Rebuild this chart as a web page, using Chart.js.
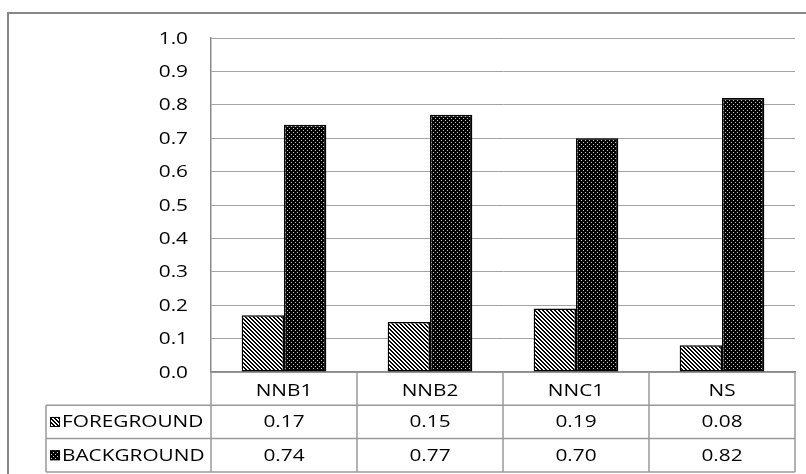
<!DOCTYPE html>
<html>
<head>
<meta charset="utf-8">
<script src="https://cdn.jsdelivr.net/npm/chart.js@4/dist/chart.umd.min.js"></script>
<style>
  html, body { margin: 0; padding: 0; background: #ffffff; }
  #wrap { width: 806px; height: 474px; }
</style>
</head>
<body>
<div id="wrap"><canvas id="c" width="806" height="474"></canvas></div>
<script>
// Categories and series
const categories = ['NNB1', 'NNB2', 'NNC1', 'NS'];
const foreground = [0.17, 0.15, 0.19, 0.08];
const background = [0.74, 0.77, 0.70, 0.82];
const seriesNames = ['FOREGROUND', 'BACKGROUND'];
const yTicks = [0.0, 0.1, 0.2, 0.3, 0.4, 0.5, 0.6, 0.7, 0.8, 0.9, 1.0];

const FONT = '16px "Open Sans"';
const TEXT_SCALE = 1.3;

// Fill patterns: diagonal hatch and dark dotted
function makePattern(drawTile, size) {
  const t = document.createElement('canvas');
  t.width = size; t.height = size;
  const g = t.getContext('2d');
  drawTile(g, size);
  return document.getElementById('c').getContext('2d').createPattern(t, 'repeat');
}
const hatch = makePattern((g, s) => {
  g.fillStyle = '#ffffff'; g.fillRect(0, 0, s, s);
  g.fillStyle = '#000000';
  for (let py = 0; py < s; py++) {
    for (let px = 0; px < s; px++) {
      if (((px - py) % 4 + 4) % 4 < 2) g.fillRect(px, py, 1, 1);
    }
  }
}, 4);
const dots = makePattern((g, s) => {
  g.fillStyle = '#000000'; g.fillRect(0, 0, s, s);
  g.fillStyle = '#c8c8c8';
  g.fillRect(1, 0, 1, 1);
  g.fillRect(3, 2, 1, 1);
}, 4);
const fills = [hatch, dots];

function drawText(ctx, text, x, y, align) {
  ctx.save();
  ctx.translate(x, y);
  ctx.scale(TEXT_SCALE, 1);
  ctx.textAlign = align;
  ctx.textBaseline = 'alphabetic';
  ctx.fillText(text, 0, 0);
  ctx.restore();
}

// Frame, value axis labels and the data table under the plot
const tablePlugin = {
  id: 'dataTable',
  afterDraw(chart) {
    const ctx = chart.ctx;
    const area = chart.chartArea;
    const xs = chart.scales.x;
    const ys = chart.scales.y;
    ctx.save();

    // outer frame
    ctx.strokeStyle = '#868686';
    ctx.lineWidth = 2;
    ctx.strokeRect(8, 13, 1000, 1000);

    ctx.font = FONT;
    ctx.fillStyle = '#000000';

    // value axis labels
    ys.ticks.forEach(t => {
      const py = ys.getPixelForValue(t.value);
      drawText(ctx, t.value.toFixed(1), 188, py + 5.5, 'right');
    });

    // table geometry
    const top = area.bottom;
    const rowH = 33.3;
    const rows = [top, top + rowH, top + 2 * rowH, top + 3 * rowH];
    const leftEdge = 46;
    const step = xs.getPixelForValue(1) - xs.getPixelForValue(0);
    const bounds = categories.map((c, i) => xs.getPixelForValue(i) - step / 2);
    bounds.push(xs.getPixelForValue(categories.length - 1) + step / 2);

    ctx.strokeStyle = '#9a9a9a';
    ctx.lineWidth = 1.5;
    ctx.beginPath();
    // horizontal lines
    for (let r = 1; r < rows.length; r++) {
      ctx.moveTo(leftEdge, rows[r]);
      ctx.lineTo(bounds[bounds.length - 1], rows[r]);
    }
    // vertical lines
    ctx.moveTo(leftEdge, rows[1]);
    ctx.lineTo(leftEdge, rows[3]);
    bounds.forEach(bx => {
      ctx.moveTo(bx, top);
      ctx.lineTo(bx, rows[3]);
    });
    ctx.stroke();

    // category row
    categories.forEach((c, i) => {
      const cx = xs.getPixelForValue(i);
      drawText(ctx, c, cx, (rows[0] + rows[1]) / 2 + 7, 'center');
    });

    // series rows
    const series = [foreground, background];
    series.forEach((vals, s) => {
      const cy = (rows[s + 1] + rows[s + 2]) / 2;
      // legend key
      ctx.fillStyle = fills[s];
      ctx.fillRect(50, cy - 5, 10, 10);
      ctx.strokeStyle = '#000000';
      ctx.lineWidth = 1;
      ctx.strokeRect(50.5, cy - 4.5, 9, 9);
      ctx.fillStyle = '#000000';
      drawText(ctx, seriesNames[s], 62, cy + 5.5, 'left');
      vals.forEach((v, i) => {
        drawText(ctx, v.toFixed(2), xs.getPixelForValue(i), cy + 5.5, 'center');
      });
    });

    ctx.restore();
  }
};

new Chart(document.getElementById('c'), {
  type: 'bar',
  data: {
    labels: categories,
    datasets: [
      { label: seriesNames[0], data: foreground, backgroundColor: hatch,
        borderColor: '#000000', borderWidth: 1.5, borderSkipped: false },
      { label: seriesNames[1], data: background, backgroundColor: dots,
        borderColor: '#000000', borderWidth: 1.5, borderSkipped: false }
    ]
  },
  options: {
    responsive: false,
    animation: false,
    devicePixelRatio: 1,
    categoryPercentage: 0.58,
    barPercentage: 1.0,
    layout: { padding: { left: 0, right: 11, top: 38, bottom: 0 } },
    plugins: { legend: { display: false }, tooltip: { enabled: false } },
    scales: {
      x: {
        grid: { display: false },
        ticks: { display: false },
        border: { display: true, color: '#8a8a8a', width: 1.5 },
        afterFit(scale) { scale.height = 102; }
      },
      y: {
        min: 0,
        max: 1,
        afterBuildTicks(scale) { scale.ticks = yTicks.map(v => ({ value: v })); },
        ticks: { display: false },
        grid: { color: '#a3a3a3', lineWidth: 1, drawTicks: false },
        border: { display: true, color: '#8a8a8a', width: 1.5 },
        afterFit(scale) { scale.width = 211; }
      }
    }
  },
  plugins: [tablePlugin]
});
</script>
</body>
</html>
